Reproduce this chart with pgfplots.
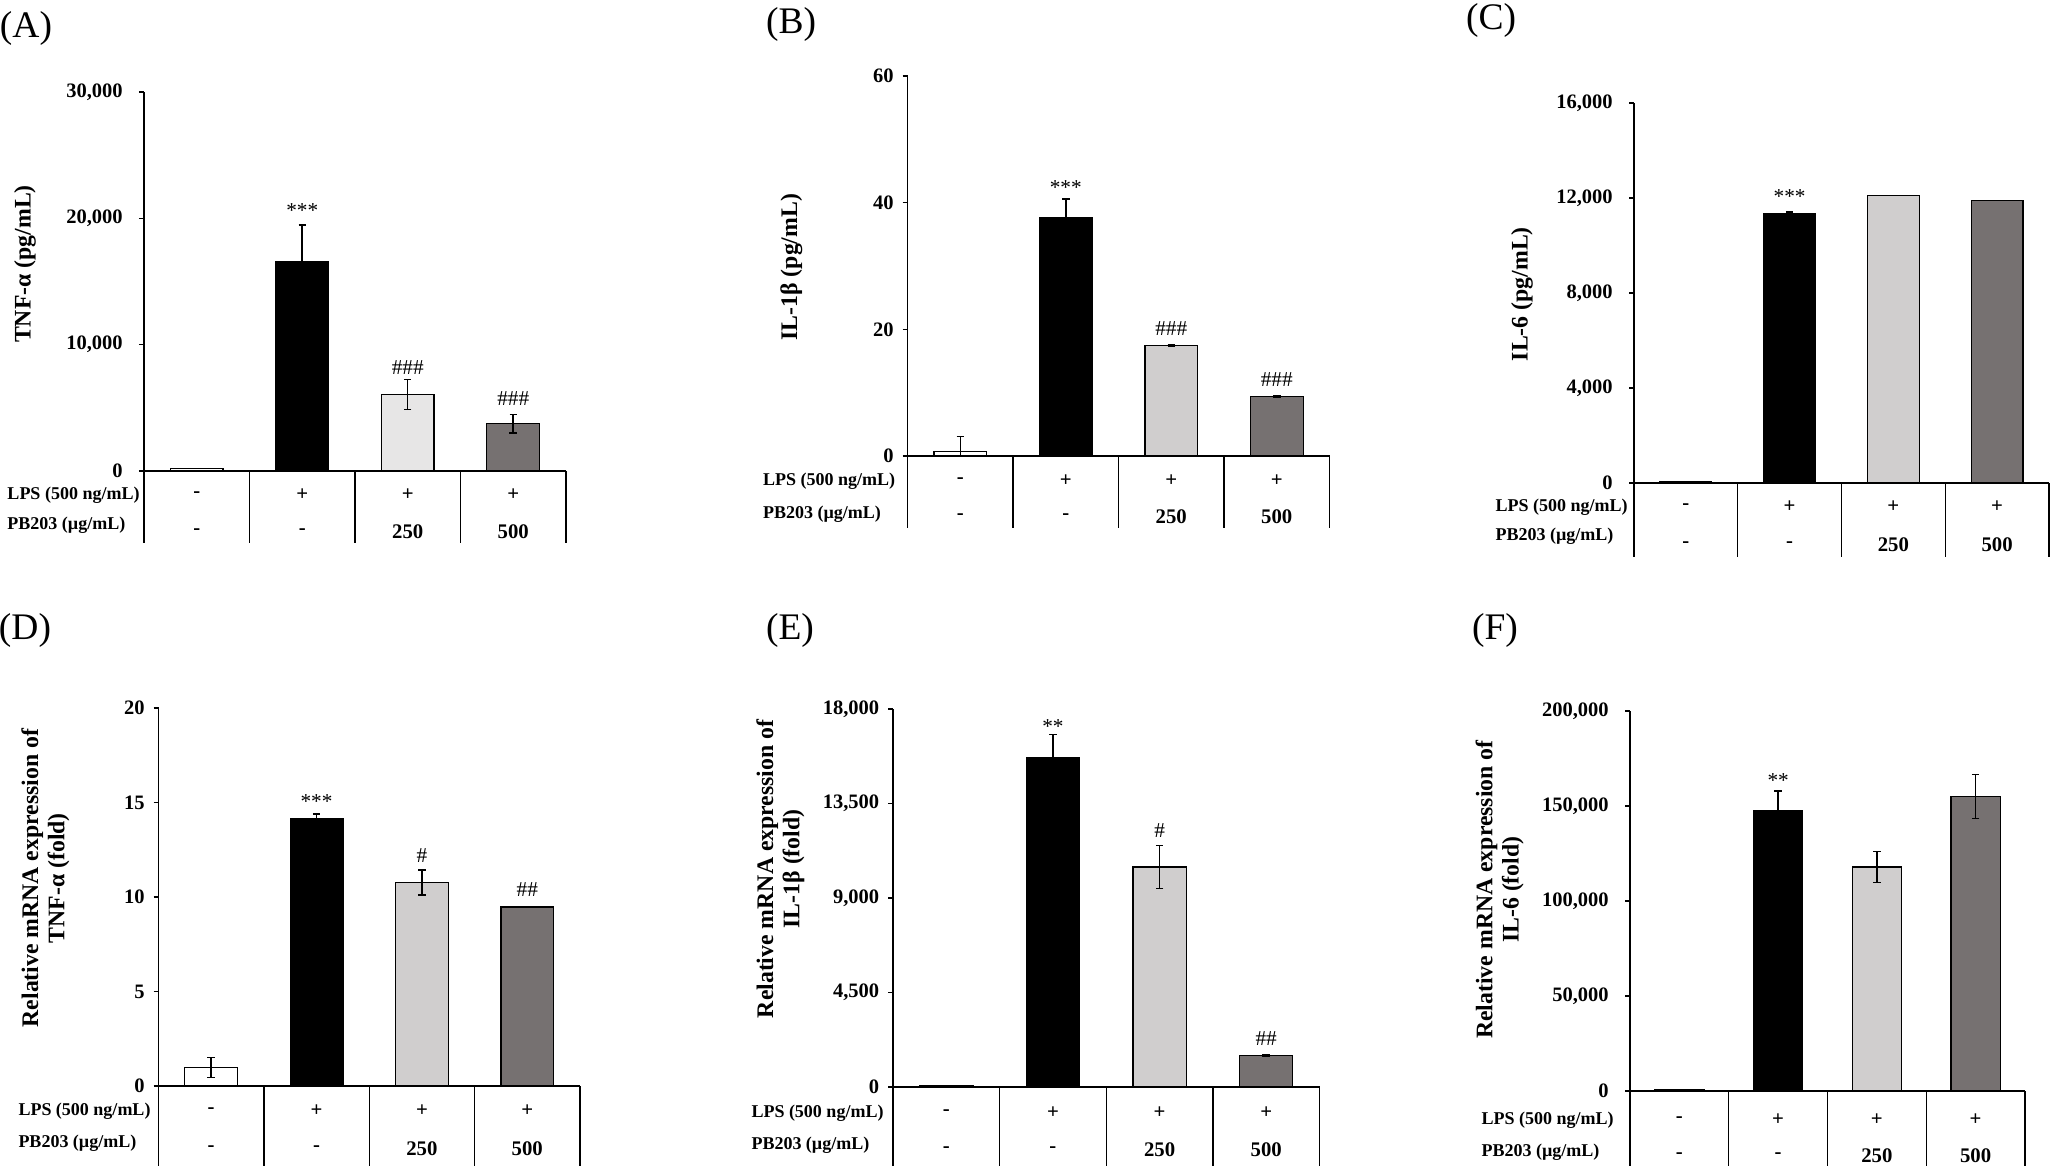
\documentclass[border=0pt]{standalone}
\usepackage{fontspec}
\setmainfont{Liberation Serif}
\usepackage{pgfplots}
\pgfplotsset{compat=1.18}
\definecolor{lgA}{HTML}{E7E6E6}
\definecolor{lg}{HTML}{D0CECE}
\definecolor{dg}{HTML}{767171}
\pgfplotsset{
  panel/.style={
    scale only axis, clip=false, anchor=south west,
    xmin=-0.5, xmax=3.5, ymin=0, xtick=\empty,
    axis x line=bottom, axis y line=left,
    axis line style={-, line width=0.5pt, black},
    x axis line style={-}, y axis line style={-},
    tick align=outside, major tick length=2pt,
    tick style={black, line width=0.5pt},
    scaled y ticks=false,
    /pgf/number format/fixed,
    /pgf/number format/precision=0,
    /pgf/number format/assume math mode=true,
    /pgf/number format/1000 sep={,},
    yticklabel style={font=\fontsize{8.2}{9}\selectfont\bfseries},
    ylabel style={font=\fontsize{9.5}{10.5}\selectfont\bfseries, align=center, anchor=center},
  },
  mybar/.style={ybar, bar width=0.5, draw=black, line width=0.5pt},
  eb/.style={error bars/.cd, y dir=both, y explicit,
    error bar style={line width=0.6pt, black},
    error mark options={rotate=90, mark size=1.5pt, line width=0.6pt, black}},
}
\tikzset{
  rowlab/.style={anchor=west, font=\fontsize{7.2}{8}\selectfont\bfseries, inner sep=0pt},
  val/.style={anchor=center, font=\fontsize{8.3}{9}\selectfont\bfseries, inner sep=0pt},
  ann/.style={anchor=center, font=\fontsize{8.5}{9}\selectfont, inner sep=0pt},
  plab/.style={anchor=center, font=\fontsize{15}{18}\selectfont, inner sep=0pt},
}
% #1 label x offset, #2 LPS row offset, #3 PB label offset, #4 PB values offset, #5 line length
\newcommand{\tablerows}[5]{%
  \draw[line width=0.5pt] (axis cs:-0.5,0) -- ++(0pt,-#5);
  \draw[line width=0.5pt] (axis cs:0.5,0) -- ++(0pt,-#5);
  \draw[line width=0.5pt] (axis cs:1.5,0) -- ++(0pt,-#5);
  \draw[line width=0.5pt] (axis cs:2.5,0) -- ++(0pt,-#5);
  \draw[line width=0.5pt] (axis cs:3.5,0) -- ++(0pt,-#5);
  \node[rowlab, xshift=-#1, yshift=-#2] at (axis cs:-0.5,0) {LPS (500 ng/mL)};
  \node[rowlab, xshift=-#1, yshift=-#3] at (axis cs:-0.5,0) {PB203 (µg/mL)};
  \node[val, yshift=-#2] at (axis cs:0,0) {-};
  \node[val, yshift=-#2] at (axis cs:1,0) {+};
  \node[val, yshift=-#2] at (axis cs:2,0) {+};
  \node[val, yshift=-#2] at (axis cs:3,0) {+};
  \node[val, yshift=-#4] at (axis cs:0,0) {-};
  \node[val, yshift=-#4] at (axis cs:1,0) {-};
  \node[val, yshift=-#4] at (axis cs:2,0) {250};
  \node[val, yshift=-#4] at (axis cs:3,0) {500};
}
\begin{document}
\begin{tikzpicture}
\useasboundingbox (0,0) rectangle (820pt,466.4pt);

% (A)
\begin{axis}[panel, at={(57.6pt,278pt)}, width=168.8pt, height=151.6pt,
  ymax=30000, ytick={0,10000,20000,30000},
  yticklabel style={xshift=-3pt},
  ylabel={TNF-α (pg/mL)},
  ylabel style={at={(axis description cs:-0.282,0.546)}}]
\addplot[mybar, fill=white] coordinates {(0,170)};
\addplot[mybar, fill=black, eb] coordinates {(1,16585) +- (0,2890)};
\addplot[mybar, fill=lgA, eb] coordinates {(2,6057) +- (0,1200)};
\addplot[mybar, fill=dg, eb] coordinates {(3,3736) +- (0,736)};
\node[ann, yshift=-1.4pt] at (axis cs:1,20900) {***};
\node[ann] at (axis cs:2,8150) {\#\#\#};
\node[ann] at (axis cs:3,5745) {\#\#\#};
\tablerows{54.8pt}{9.6pt}{21.6pt}{24.4pt}{28.8pt}
\end{axis}

% (B)
\begin{axis}[panel, at={(363pt,284pt)}, width=168.8pt, height=152pt,
  ymax=60, ytick={0,20,40,60},
  ylabel={IL-1β (pg/mL)},
  ylabel style={at={(axis description cs:-0.275,0.497)}}]
\addplot[mybar, fill=white, eb] coordinates {(0,0.68) += (0,2.4) -= (0,0.68)};
\addplot[mybar, fill=black, eb] coordinates {(1,37.7) +- (0,2.9)};
\addplot[mybar, fill=lg, eb] coordinates {(2,17.4) +- (0,0.15)};
\addplot[mybar, fill=dg, eb] coordinates {(3,9.42) +- (0,0.1)};
\node[ann, yshift=-1.4pt] at (axis cs:1,43) {***};
\node[ann] at (axis cs:2,20.1) {\#\#\#};
\node[ann] at (axis cs:3,12.1) {\#\#\#};
\tablerows{58pt}{10pt}{23.2pt}{24.4pt}{29pt}
\end{axis}

% (C)
\begin{axis}[panel, at={(653.6pt,273.2pt)}, width=166pt, height=152pt,
  ymax=16000, ytick={0,4000,8000,12000,16000},
  yticklabel style={xshift=-3pt},
  ylabel={IL-6 (pg/mL)},
  ylabel style={at={(axis description cs:-0.270,0.497)}}]
\addplot[mybar, fill=white] coordinates {(0,40)};
\addplot[mybar, fill=black, eb] coordinates {(1,11340) +- (0,60)};
\addplot[mybar, fill=lg] coordinates {(2,12090)};
\addplot[mybar, fill=dg] coordinates {(3,11880)};
\node[ann, yshift=-1.4pt] at (axis cs:1,12213) {***};
\tablerows{55.6pt}{9.6pt}{21.2pt}{24.8pt}{29.6pt}
\end{axis}

% (D)
\begin{axis}[panel, at={(63.4pt,32pt)}, width=168.6pt, height=151.2pt,
  ymax=20, ytick={0,5,10,15,20},
  ylabel={Relative mRNA expression of\\TNF-α (fold)},
  ylabel style={at={(axis description cs:-0.268,0.55)}}]
\addplot[mybar, fill=white, eb] coordinates {(0,0.99) +- (0,0.53)};
\addplot[mybar, fill=black, eb] coordinates {(1,14.14) +- (0,0.25)};
\addplot[mybar, fill=lg, eb] coordinates {(2,10.77) +- (0,0.67)};
\addplot[mybar, fill=dg, eb] coordinates {(3,9.47) +- (0,0.03)};
\node[ann, yshift=-1.4pt] at (axis cs:1,15.26) {***};
\node[ann] at (axis cs:2,12.17) {\#};
\node[ann] at (axis cs:3,10.39) {\#\#};
\tablerows{56.2pt}{10pt}{22.8pt}{25.2pt}{32pt}
\end{axis}

% (E)
\begin{axis}[panel, at={(357.2pt,31.6pt)}, width=170.6pt, height=151.2pt,
  ymax=18000, ytick={0,4500,9000,13500,18000},
  ylabel={Relative mRNA expression of\\IL-1β (fold)},
  ylabel style={at={(axis description cs:-0.264,0.577)}}]
\addplot[mybar, fill=white] coordinates {(0,50)};
\addplot[mybar, fill=black, eb] coordinates {(1,15686) +- (0,1100)};
\addplot[mybar, fill=lg, eb] coordinates {(2,10480) +- (0,1030)};
\addplot[mybar, fill=dg, eb] coordinates {(3,1495) +- (0,30)};
\node[ann, yshift=-1.4pt] at (axis cs:1,17350) {**};
\node[ann] at (axis cs:2,12200) {\#};
\node[ann] at (axis cs:3,2320) {\#\#};
\tablerows{56.8pt}{10.4pt}{23.2pt}{25.2pt}{31.6pt}
\end{axis}

% (F)
\begin{axis}[panel, at={(652pt,30pt)}, width=158pt, height=152pt,
  ymax=200000, ytick={0,50000,100000,150000,200000},
  yticklabel style={xshift=-3pt},
  ylabel={Relative mRNA expression of\\IL-6 (fold)},
  ylabel style={at={(axis description cs:-0.330,0.53)}}]
\addplot[mybar, fill=white] coordinates {(0,500)};
\addplot[mybar, fill=black, eb] coordinates {(1,147500) +- (0,10300)};
\addplot[mybar, fill=lg, eb] coordinates {(2,117900) +- (0,8200)};
\addplot[mybar, fill=dg, eb] coordinates {(3,154900) +- (0,11600)};
\node[ann, yshift=-1.4pt] at (axis cs:1,165000) {**};
\tablerows{59.6pt}{11.6pt}{24.4pt}{26pt}{30pt}
\end{axis}

\node[plab] at (10.4pt,455.2pt) {(A)};
\node[plab] at (316.4pt,456.8pt) {(B)};
\node[plab] at (596.4pt,458.4pt) {(C)};
\node[plab] at (10pt,214.4pt) {(D)};
\node[plab] at (316pt,214.4pt) {(E)};
\node[plab] at (598pt,214.4pt) {(F)};
\end{tikzpicture}
\end{document}
